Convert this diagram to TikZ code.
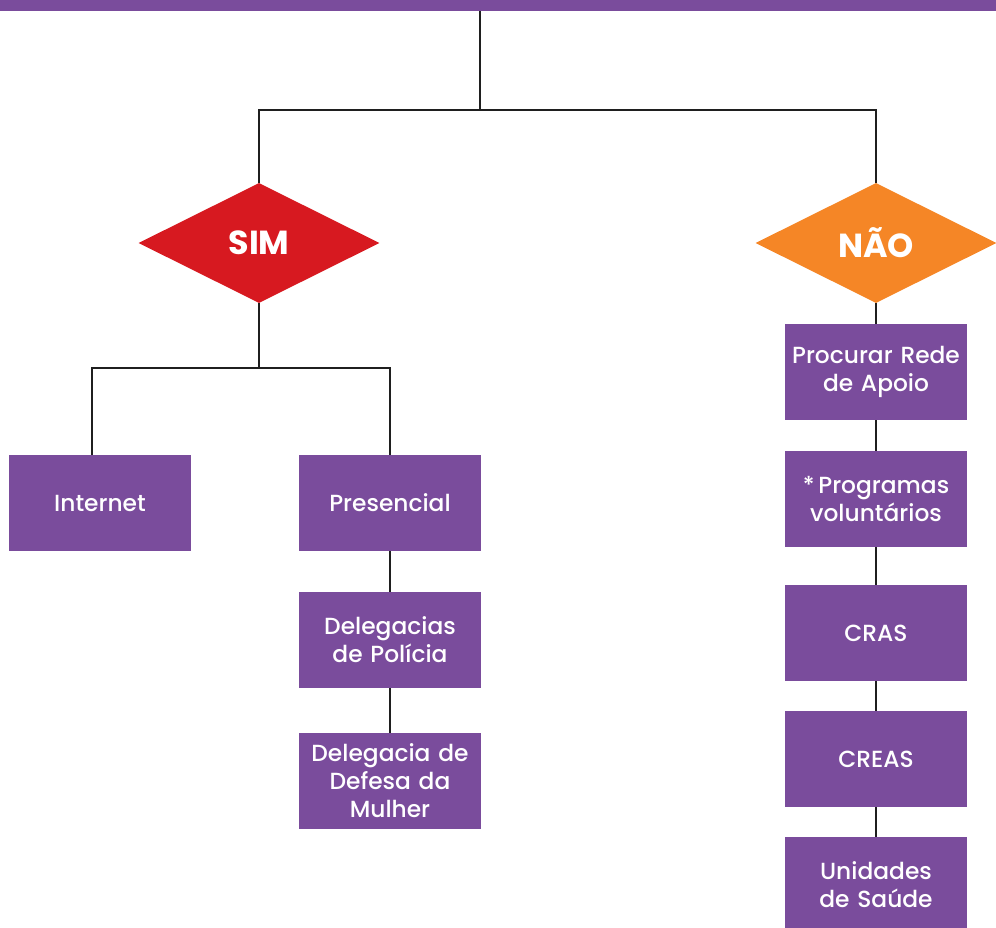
\documentclass[tikz,border=0pt]{standalone}
\usepackage{fontspec}
\setmainfont{Poppins}
\newfontfamily\caixafont{Poppins}[UprightFont=* Medium]
\usetikzlibrary{shapes.geometric}
\definecolor{roxo}{HTML}{7A4C9C}
\definecolor{vermelho}{HTML}{D71920}
\definecolor{laranja}{HTML}{F58626}
\tikzset{
  caixa/.style={fill=roxo, text=white, minimum width=136.5pt, minimum height=72pt,
    inner sep=1pt, align=center, text width=134pt, font=\caixafont\fontsize{17.5}{21}\selectfont},
  losango/.style={diamond, aspect=2, fill=#1, text=white, minimum width=180.75pt,
    minimum height=90pt, inner sep=0pt, font=\fontsize{25}{28}\selectfont\bfseries},
  liga/.style={line width=2.2pt, black!88}
}
\begin{document}
\begin{tikzpicture}[x=0.75pt,y=-0.75pt]
\useasboundingbox (0,0) rectangle (996,928);
\fill[roxo] (0,0) rectangle (996,11);
\coordinate (topo) at (480,11);
\coordinate (ramo) at (480,110);
\node[losango=vermelho] (sim) at (259,243) {SIM};
\node[losango=laranja] (nao) at (876,243) {NÃO};
% lado SIM
\coordinate (ramo2) at (259,368);
\coordinate (entrada) at (92,455);
\node[caixa] (internet) at (100,503) {Internet};
\node[caixa] (presencial) at (390,503) {Presencial};
\node[caixa] (policia) at (390,640) {Delegacias\\de Polícia};
\node[caixa] (mulher) at (390,781) {Delegacia de\\Defesa da\\Mulher};
% lado NAO
\node[caixa] (rede) at (876,372) {Procurar Rede\\de Apoio};
\node[caixa] (programas) at (876,499) {*\,Programas\\voluntários};
\node[caixa] (cras) at (876,633) {CRAS};
\node[caixa] (creas) at (876,759) {CREAS};
\node[caixa] (saude) at (876,885) {Unidades\\de Saúde};
% ligacoes
\draw[liga] (topo) -- (ramo);
\draw[liga] (sim.north) |- (ramo) -| (nao.north);
\draw[liga] (sim.south) -- (ramo2);
\draw[liga] (entrada) |- (ramo2) -| (presencial.north);
\draw[liga] (presencial.south) -- (policia.north);
\draw[liga] (policia.south) -- (mulher.north);
\draw[liga] (nao.south) -- (rede.north);
\draw[liga] (rede.south) -- (programas.north);
\draw[liga] (programas.south) -- (cras.north);
\draw[liga] (cras.south) -- (creas.north);
\draw[liga] (creas.south) -- (saude.north);
\end{tikzpicture}
\end{document}
